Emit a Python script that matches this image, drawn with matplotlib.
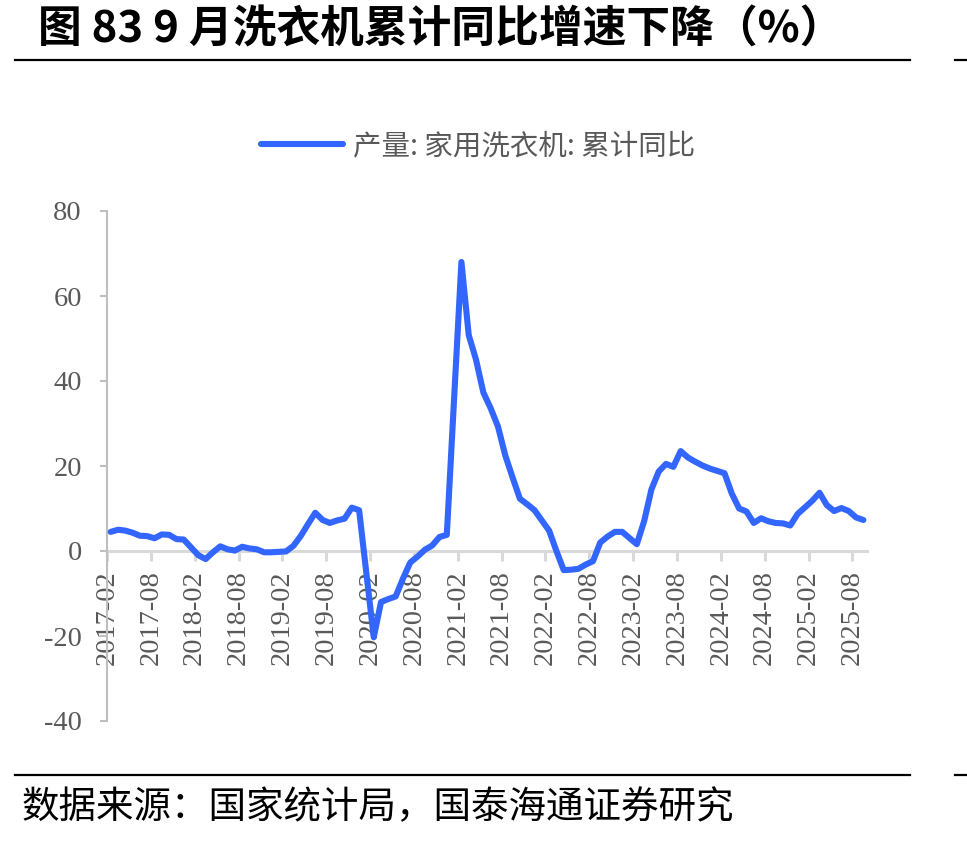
import matplotlib
matplotlib.use('Agg')
import matplotlib.pyplot as plt
from matplotlib.lines import Line2D

plt.rcParams['axes.unicode_minus'] = False

# ---------------- data ----------------
months = [
    '2017-02', '2017-03', '2017-04', '2017-05', '2017-06', '2017-07', '2017-08', '2017-09', '2017-10', '2017-11', '2017-12',
    '2018-02', '2018-03', '2018-04', '2018-05', '2018-06', '2018-07', '2018-08', '2018-09', '2018-10', '2018-11', '2018-12',
    '2019-02', '2019-03', '2019-04', '2019-05', '2019-06', '2019-07', '2019-08', '2019-09', '2019-10', '2019-11', '2019-12',
    '2020-02', '2020-03', '2020-04', '2020-05', '2020-06', '2020-07', '2020-08', '2020-09', '2020-10', '2020-11', '2020-12',
    '2021-02', '2021-03', '2021-04', '2021-05', '2021-06', '2021-07', '2021-08', '2021-09', '2021-10', '2021-11', '2021-12',
    '2022-02', '2022-03', '2022-04', '2022-05', '2022-06', '2022-07', '2022-08', '2022-09', '2022-10', '2022-11', '2022-12',
    '2023-02', '2023-03', '2023-04', '2023-05', '2023-06', '2023-07', '2023-08', '2023-09', '2023-10', '2023-11', '2023-12',
    '2024-02', '2024-03', '2024-04', '2024-05', '2024-06', '2024-07', '2024-08', '2024-09', '2024-10', '2024-11', '2024-12',
    '2025-02', '2025-03', '2025-04', '2025-05', '2025-06', '2025-07', '2025-08', '2025-09',
]
values = [
    4.5, 5.0, 4.8, 4.3, 3.6, 3.5, 3.0, 3.9, 3.8, 2.8, 2.7,
    -1.0, -1.9, -0.3, 1.1, 0.4, 0.1, 1.0, 0.6, 0.4, -0.3, -0.3,
    -0.1, 1.2, 3.5, 6.3, 9.0, 7.3, 6.6, 7.2, 7.6, 10.2, 9.6,
    -20.3, -12.0, -11.3, -10.7, -6.5, -2.7, -1.3, 0.3, 1.3, 3.3, 3.8,
    68.0, 50.8, 45.0, 37.3, 33.6, 29.3, 22.5, 17.3, 12.3, 11.0, 9.6,
    4.8, 0.0, -4.5, -4.4, -4.2, -3.2, -2.4, 2.0, 3.4, 4.5, 4.5,
    1.6, 7.0, 14.5, 18.7, 20.5, 19.8, 23.5, 22.0, 21.0, 20.1, 19.4,
    18.3, 13.5, 10.0, 9.3, 6.6, 7.7, 7.0, 6.6, 6.5, 6.0, 8.7,
    11.8, 13.7, 10.8, 9.4, 10.1, 9.4, 7.9, 7.3,
]
tick_labels = ['2017-02', '2017-08', '2018-02', '2018-08', '2019-02', '2019-08',
               '2020-02', '2020-08', '2021-02', '2021-08', '2022-02', '2022-08',
               '2023-02', '2023-08', '2024-02', '2024-08', '2025-02', '2025-08']
y_ticks = [-40, -20, 0, 20, 40, 60, 80]
series_name = '产量: 家用洗衣机: 累计同比'
title = '图 83 9 月洗衣机累计同比增速下降（%）'
source = '数据来源：国家统计局，国泰海通证券研究'


def month_index(s):
    y, m = s.split('-')
    return (int(y) - 2017) * 12 + (int(m) - 2)


x_vals = [month_index(s) + 0.5 for s in months]
x_ticks = [month_index(s) for s in tick_labels]

# ---------------- figure ----------------
W, H = 967, 843
fig = plt.figure(figsize=(W / 100, H / 100), dpi=100)
fig.patch.set_facecolor('white')

ax = fig.add_axes([107 / W, 1 - 721 / H, (867 - 107) / W, (721 - 211) / H])
ax.plot(x_vals, values, color='#3366FF', lw=4.4, solid_joinstyle='round',
        solid_capstyle='round', label=series_name, zorder=3)

for s in ['top', 'right']:
    ax.spines[s].set_visible(False)
ax.spines['bottom'].set_position(('data', 0))
ax.spines['bottom'].set_color('#D9D9D9')
ax.spines['bottom'].set_linewidth(2.2)
ax.spines['left'].set_color('#BFBFBF')
ax.spines['left'].set_linewidth(1.5)
ax.spines['bottom'].set_zorder(1)

ax.set_xlim(0, 104)
ax.set_ylim(-40, 80)
ax.set_yticks(y_ticks)
ax.set_yticklabels([str(v) for v in y_ticks])
ax.set_xticks(x_ticks)
ax.set_xticklabels(tick_labels)

ax.tick_params(axis='x', direction='out', length=7, width=2.2, color='#D9D9D9',
               pad=7, labelsize=20.5, labelcolor='#595959', labelrotation=90)
ax.tick_params(axis='y', direction='out', length=5, width=1.5, color='#BFBFBF',
               pad=13, labelsize=20.5, labelcolor='#595959')
for lab in ax.get_xticklabels() + ax.get_yticklabels():
    lab.set_fontfamily('Liberation Serif')

leg = ax.legend(loc='center', bbox_to_anchor=(478 / W, 1 - 146 / H),
                bbox_transform=fig.transFigure, frameon=False,
                prop={'family': ['Noto Sans CJK SC', 'DejaVu Sans'], 'size': 20.5},
                handlelength=2.9, handletextpad=0.35)
for t in leg.get_texts():
    t.set_color('#595959')

# title and rules
fig.text(38 / W, 1 - 30 / H, title, fontsize=31.5, fontweight='bold',
         family=['Noto Sans CJK SC', 'DejaVu Sans'], va='center', ha='left', color='black')
fig.add_artist(Line2D([15 / W, 910 / W], [1 - 60 / H] * 2, color='black', lw=1.6))
fig.add_artist(Line2D([955 / W, 967 / W], [1 - 60 / H] * 2, color='black', lw=1.6))
fig.add_artist(Line2D([15 / W, 910 / W], [1 - 775 / H] * 2, color='black', lw=1.6))
fig.add_artist(Line2D([955 / W, 967 / W], [1 - 775 / H] * 2, color='black', lw=1.6))
fig.text(22 / W, 1 - 808 / H, source, fontsize=27,
         family=['Noto Sans CJK SC', 'DejaVu Sans'], va='center', ha='left', color='black')

fig.savefig('out.png', dpi=100)
